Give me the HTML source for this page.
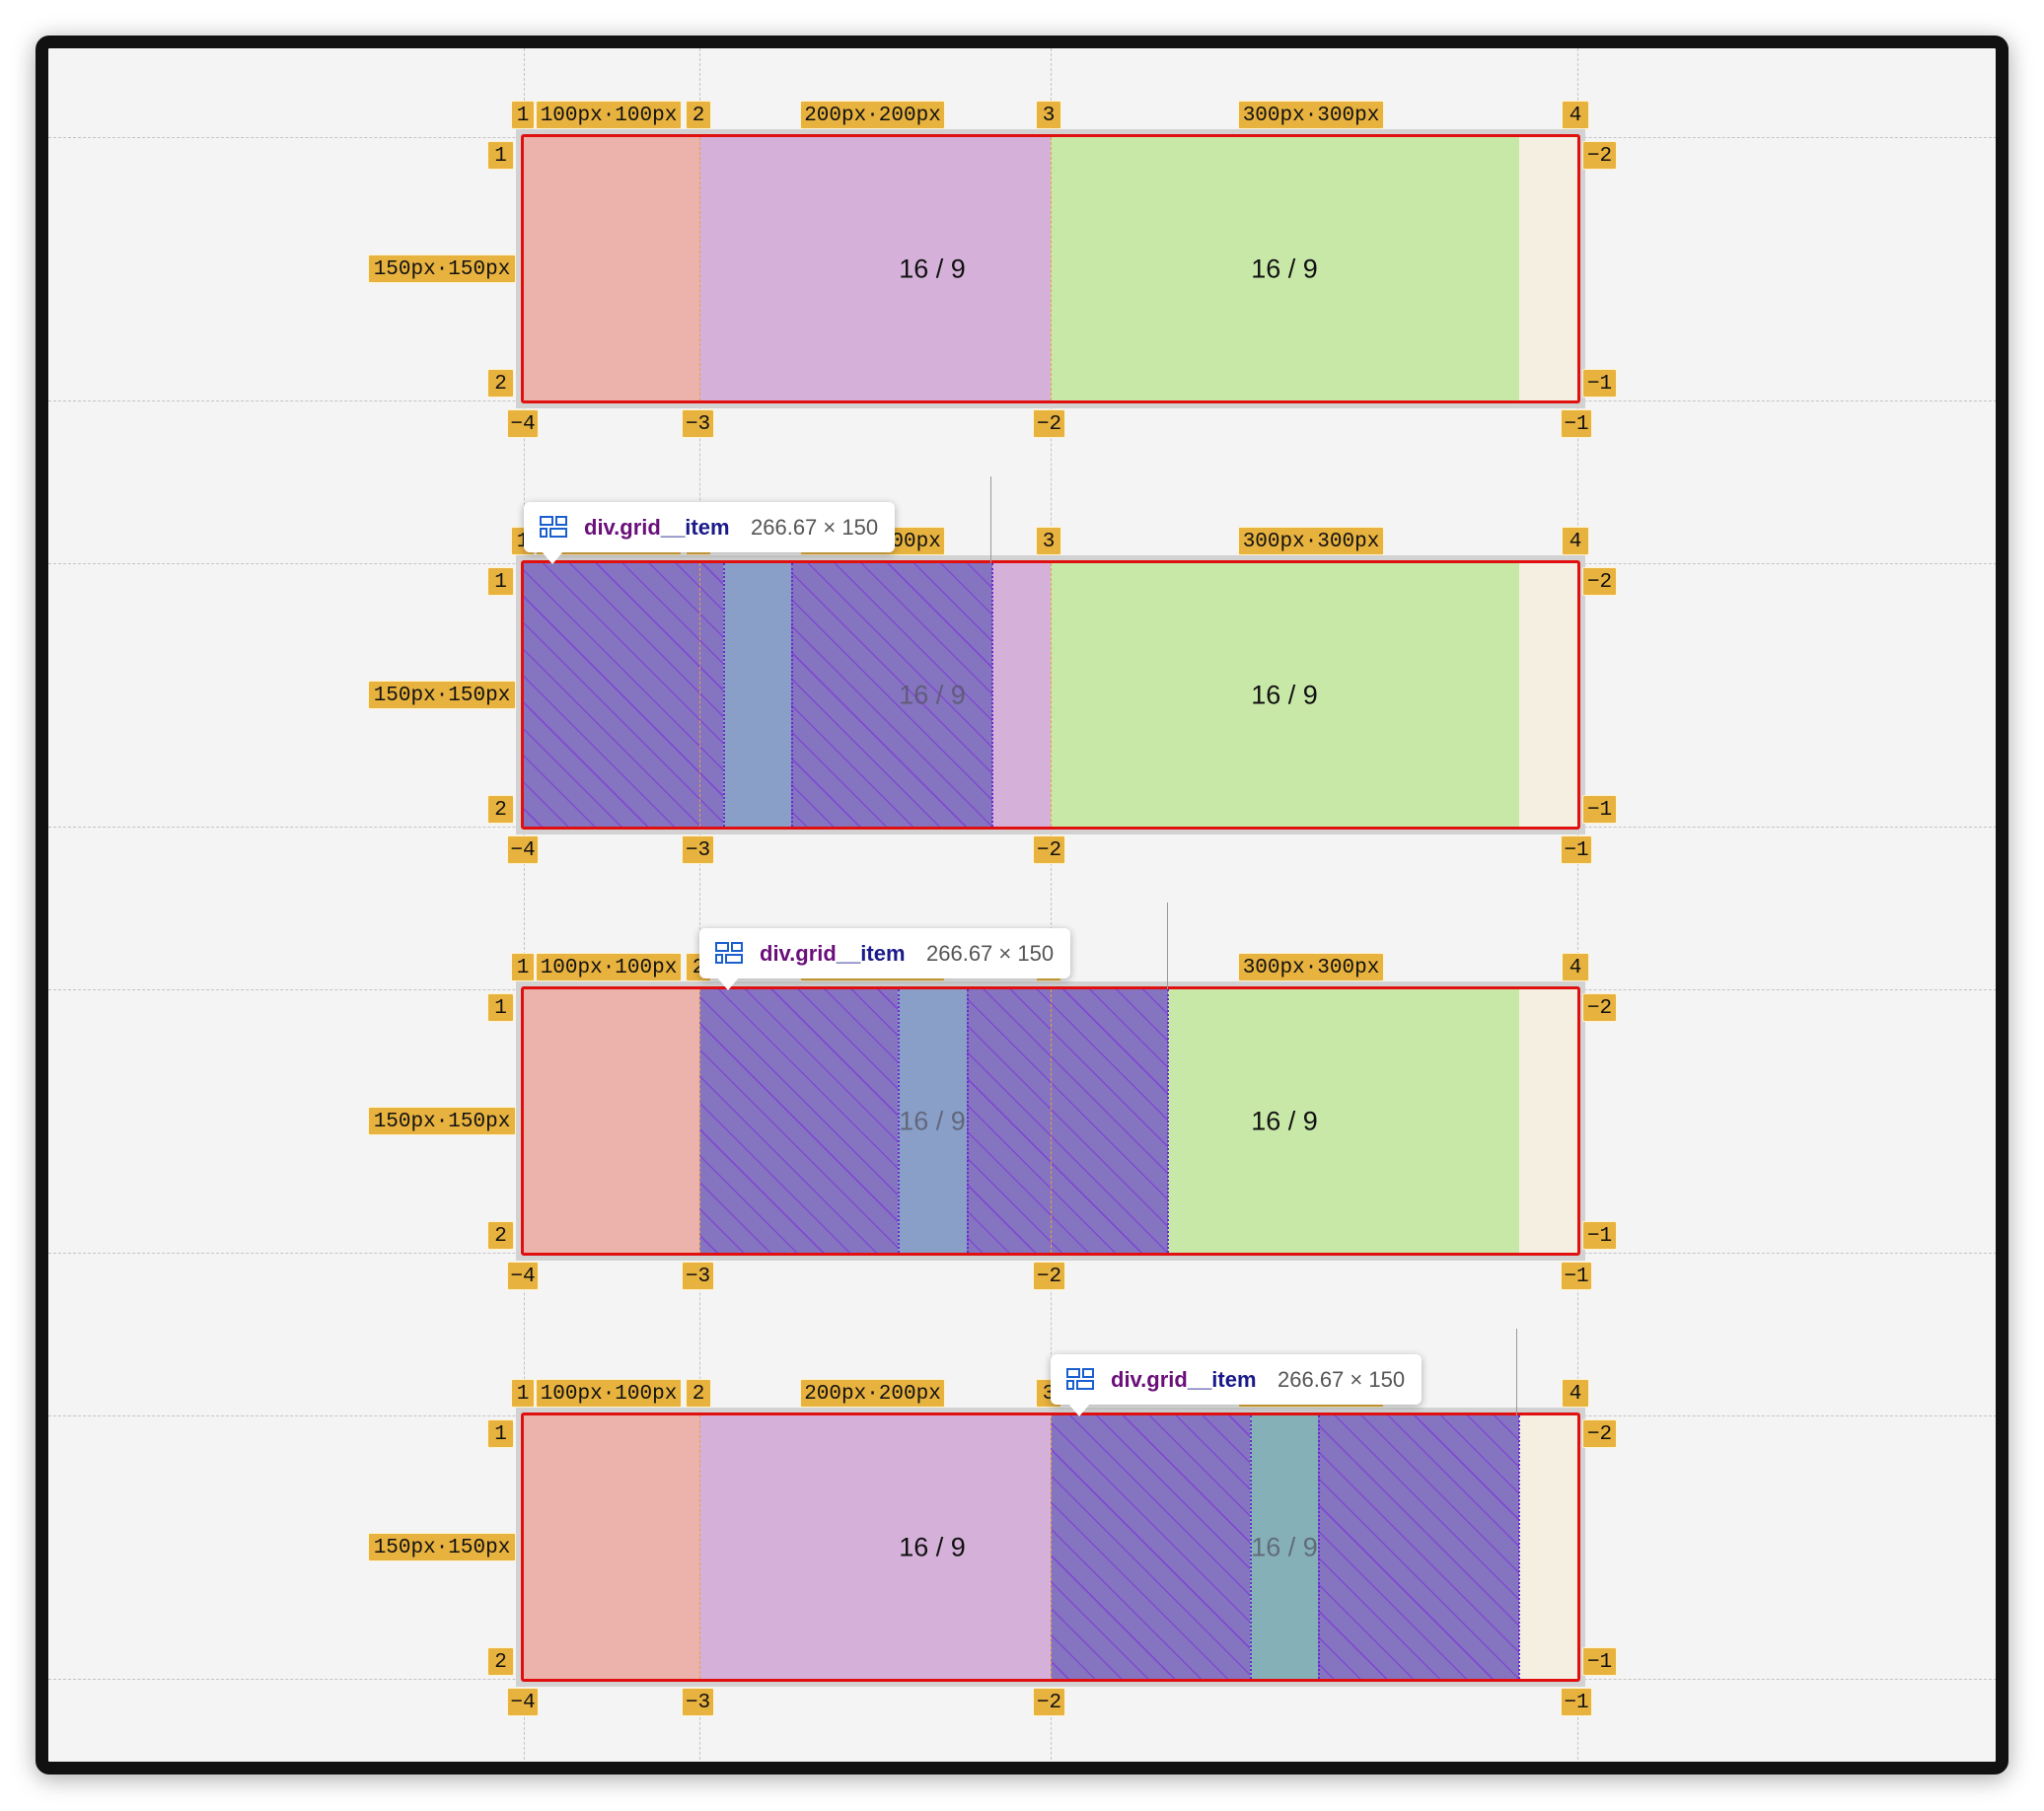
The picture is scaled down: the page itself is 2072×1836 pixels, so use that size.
<!DOCTYPE html>
<html><head><meta charset="utf-8">
<style>
*{margin:0;padding:0;box-sizing:border-box}
body{width:2072px;height:1836px;background:#fff;position:relative;overflow:hidden;font-family:"Liberation Sans",sans-serif}
.frame{position:absolute;left:36px;top:36px;width:2000px;height:1763px;border:13px solid #111;border-radius:14px;background:#f4f4f4;box-shadow:0 4px 24px rgba(0,0,0,.35);overflow:hidden}
.a{position:absolute}
.vd{position:absolute;width:0;border-left:1.5px dashed #c4c4c4}
.hd{position:absolute;height:0;border-top:1.5px dashed #c4c4c4}
.b{position:absolute;background:#e8b23f;color:#111;font-family:"Liberation Mono",monospace;font-size:21px;line-height:29px;height:29px;text-align:center;border-radius:2px;border:1px solid #fff3d0;white-space:nowrap;overflow:hidden}
.txt{position:absolute;font-size:27px;color:#111;transform:translate(-50%,-50%)}
.hatch{background-color:#8574c0;background-image:repeating-linear-gradient(45deg,transparent 0 12px,rgba(125,60,215,.75) 12px 13.5px,transparent 13.5px 19px);}
.tip{position:absolute;background:#fff;border-radius:6px;box-shadow:0 2px 8px rgba(0,0,0,.3);height:51px;width:376px;font-size:22px;line-height:51px;white-space:nowrap}
.tip .n{position:absolute;left:61px;font-weight:bold;color:#6a0f7a}
.tip .n span{color:#1a1a8a}
.tip .s{position:absolute;left:230px;color:#555}
.tip .ar{position:absolute;left:18px;top:50px;width:0;height:0;border-left:11px solid transparent;border-right:11px solid transparent;border-top:13px solid #fff}
.pd{position:absolute;top:0;height:267px;border-left:2px dotted #6a2bd0}
</style></head><body>
<div class="frame" id="f"></div>
<script>
var f=document.getElementById('f');var O=49;
function add(h){f.insertAdjacentHTML('beforeend',h);}
function px(v){return (v-O)+'px';}
[531,709,1065,1599].forEach(function(x){add('<div class="vd" style="left:'+px(x)+';top:0;height:1800px"></div>');});
var tops=[139,571,1003,1435];
tops.forEach(function(t,i){
 add('<div class="hd" style="top:'+px(t)+';left:0;width:2000px"></div>');
 add('<div class="hd" style="top:'+px(t+267)+';left:0;width:2000px"></div>');
});
tops.forEach(function(t,i){
 var L=531,W=1068,H=267;
 var g='<div class="a" style="left:'+px(L)+';top:'+px(t)+';width:'+W+'px;height:'+H+'px;box-shadow:0 0 0 8px #d2d2d2;background:#f5efe1">';
 function r(x1,x2,c,extra){return '<div class="a '+(extra||'')+'" style="left:'+(x1-L)+'px;top:0;width:'+(x2-x1)+'px;height:'+H+'px;background-color:'+c+'"></div>';}
 g+=r(531,709,'#ebb3ab');
 g+=r(709,1065,'#d5b1da');
 g+=r(1065,1540,'#c8e8a8');
 var tx1=945,tx2=1302,fade1=false,fade2=false;
 if(i==1){g+=r(531,1006,'','hatch');g+=r(733,802,'#8a9fc8');g+='<div class="pd" style="left:'+(733-L)+'px"></div><div class="pd" style="left:'+(802-L)+'px"></div><div class="pd" style="left:'+(1005-L)+'px"></div>';fade1=true;}
 if(i==2){g+=r(709,1184,'','hatch');g+=r(910,980,'#8a9fc8');g+='<div class="pd" style="left:'+(910-L)+'px"></div><div class="pd" style="left:'+(980-L)+'px"></div><div class="pd" style="left:'+(1183-L)+'px"></div>';fade1=true;}
 if(i==3){g+=r(1065,1540,'','hatch');g+=r(1267,1336,'#86b0b8');g+='<div class="pd" style="left:'+(1267-L)+'px"></div><div class="pd" style="left:'+(1336-L)+'px"></div><div class="pd" style="left:'+(1539-L)+'px"></div>';fade2=true;}
 [709,1065].forEach(function(x){g+='<div class="a" style="left:'+(x-L)+'px;top:0;height:'+H+'px;border-left:1.5px dashed #e8a040"></div>';});
 g+='<div class="a" style="left:-3px;top:-3px;width:'+(W+6)+'px;height:'+(H+6)+'px;border:3px solid #e01010;border-radius:3px"></div>';
 g+='</div>';
 add(g);
 var c1=fade1?'#556':'#111',c2=fade2?'#556':'#111';
 add('<div class="txt" style="left:'+px(tx1)+';top:'+px(t+134)+';color:'+c1+';opacity:'+(fade1?0.75:1)+'">16 / 9</div>');
 add('<div class="txt" style="left:'+px(tx2)+';top:'+px(t+134)+';color:'+c2+';opacity:'+(fade2?0.75:1)+'">16 / 9</div>');
 function B(x1,x2,y,s){add('<div class="b" style="left:'+px(x1)+';top:'+px(y)+';width:'+(x2-x1)+'px">'+s+'</div>');}
 B(518,542,t-37,'1');B(543,691,t-37,'100px·100px');B(695,721,t-37,'2');B(811,958,t-37,'200px·200px');
 B(1050,1076,t-37,'3');B(1255,1403,t-37,'300px·300px');B(1583,1611,t-37,'4');
 B(494,521,t+4,'1');B(373,523,t+119,'150px·150px');B(494,521,t+235,'2');
 B(1604,1639,t+4,'−2');B(1604,1639,t+235,'−1');
 B(514,546,t+276,'−4');B(691,724,t+276,'−3');B(1047,1080,t+276,'−2');B(1582,1614,t+276,'−1');
});
var tips=[[531,571,1004],[709,1003,1183],[1065,1435,1537]];
tips.forEach(function(p){
 add('<div class="a" style="left:'+px(p[2])+';top:'+px(p[1]-88)+';height:88px;border-left:1.5px solid #999"></div>');
 add('<div class="tip" style="left:'+px(p[0])+';top:'+px(p[1]-62)+'"><svg class="a" style="left:16px;top:14px" width="28" height="22" viewBox="0 0 28 22"><g fill="none" stroke="#1a5fd0" stroke-width="2"><rect x="1" y="1" width="12" height="8"/><rect x="17" y="1" width="10" height="8"/><rect x="1" y="13" width="6" height="8"/><rect x="11" y="13" width="16" height="8"/></g></svg><span class="n">div.grid<span>__item</span></span><span class="s">266.67 × 150</span><div class="ar"></div></div>');
});
</script>
</body></html>
